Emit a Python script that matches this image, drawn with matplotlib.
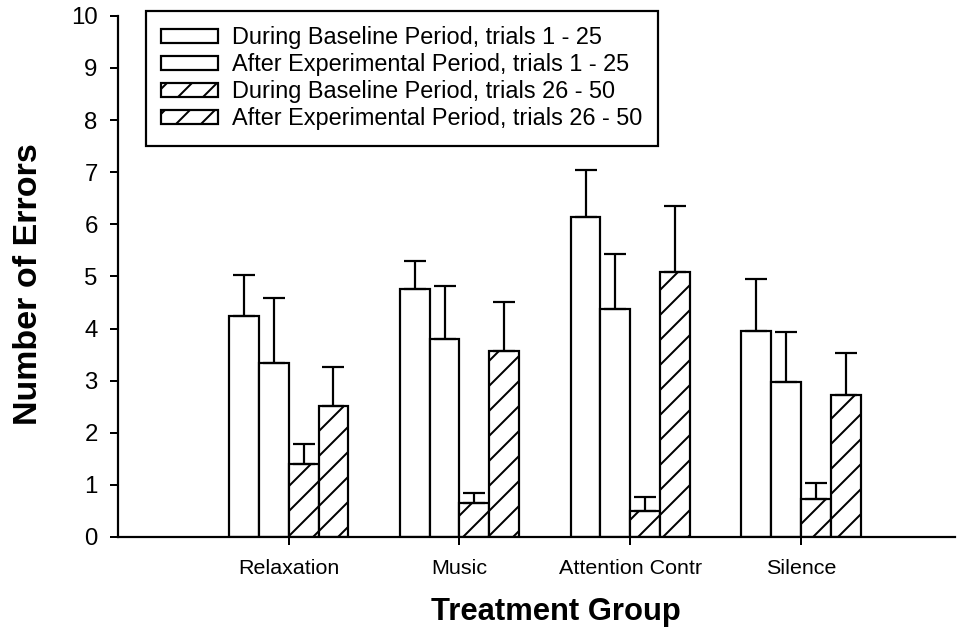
import numpy as np
import matplotlib
matplotlib.use("Agg")
import matplotlib.pyplot as plt

# hatch spacing follows the dpi, so draw at 75 dpi and give sizes in pixels
DPI = 75


def px(v):
    return v * 72.0 / DPI


plt.rcParams["font.family"] = ["Liberation Sans", "DejaVu Sans"]
plt.rcParams["hatch.linewidth"] = px(2.0)

groups = ["Relaxation", "Music", "Attention Contr", "Silence"]
series_labels = [
    "During Baseline Period, trials 1 - 25",
    "After Experimental Period, trials 1 - 25",
    "During Baseline Period, trials 26 - 50",
    "After Experimental Period, trials 26 - 50",
]
# bar heights (mean number of errors), one list per series
base_1_25 = [4.25, 4.75, 6.14, 3.96]
after_1_25 = [3.33, 3.80, 4.37, 2.98]
base_26_50 = [1.41, 0.65, 0.50, 0.73]
after_26_50 = [2.52, 3.56, 5.08, 2.72]
# top of error bar for each series
base_1_25_top = [5.03, 5.30, 7.04, 4.95]
after_1_25_top = [4.59, 4.82, 5.43, 3.94]
base_26_50_top = [1.78, 0.84, 0.76, 1.04]
after_26_50_top = [3.27, 4.50, 6.36, 3.54]

means = [base_1_25, after_1_25, base_26_50, after_26_50]
tops = [base_1_25_top, after_1_25_top, base_26_50_top, after_26_50_top]
hatches = ["", "", "/", "/"]

fig = plt.figure(figsize=(957 / DPI, 634 / DPI), dpi=DPI)
ax = fig.add_axes([0.123, 0.153, 0.875, 0.822])

x = np.arange(1, len(groups) + 1)
w = 0.175
for i, (m, t, h, lab) in enumerate(zip(means, tops, hatches, series_labels)):
    pos = x + (i - 1.5) * w
    m = np.array(m)
    err = np.array(t) - m
    ax.bar(pos, m, width=w, color="white", edgecolor="black", linewidth=px(2.2),
           hatch=h, label=lab, zorder=2)
    ax.errorbar(pos, m, yerr=[np.zeros_like(err), err], fmt="none",
                ecolor="black", elinewidth=px(2.2), capsize=px(11),
                capthick=px(2.2), zorder=3)

ax.set_xlim(0.0, 4.9)
ax.set_ylim(0, 10)
ax.set_yticks(range(0, 11))
ax.set_xticks(x)
ax.set_xticklabels(groups, fontsize=px(21.5))
ax.tick_params(axis="y", labelsize=px(24), length=px(8), width=px(2),
               direction="out", pad=px(12))
ax.tick_params(axis="x", length=px(8), width=px(2), direction="out", pad=px(14))
for s in ["top", "right"]:
    ax.spines[s].set_visible(False)
for s in ["left", "bottom"]:
    ax.spines[s].set_linewidth(px(2.2))

ax.set_ylabel("Number of Errors", fontsize=px(34), fontweight="bold")
ax.yaxis.set_label_coords(-0.088, 0.485)
ax.set_xlabel("Treatment Group", fontsize=px(31), fontweight="bold")
ax.xaxis.set_label_coords(0.523, -0.115)

leg = ax.legend(loc="upper left", bbox_to_anchor=(0.0335, 1.0096), borderaxespad=0,
                fontsize=px(23.5), handlelength=2.4, handleheight=0.5,
                labelspacing=0.17, fancybox=False, framealpha=1,
                edgecolor="black", borderpad=0.66, handletextpad=0.6)
leg.get_frame().set_linewidth(px(2.2))

fig.savefig("out.png", dpi=DPI)
